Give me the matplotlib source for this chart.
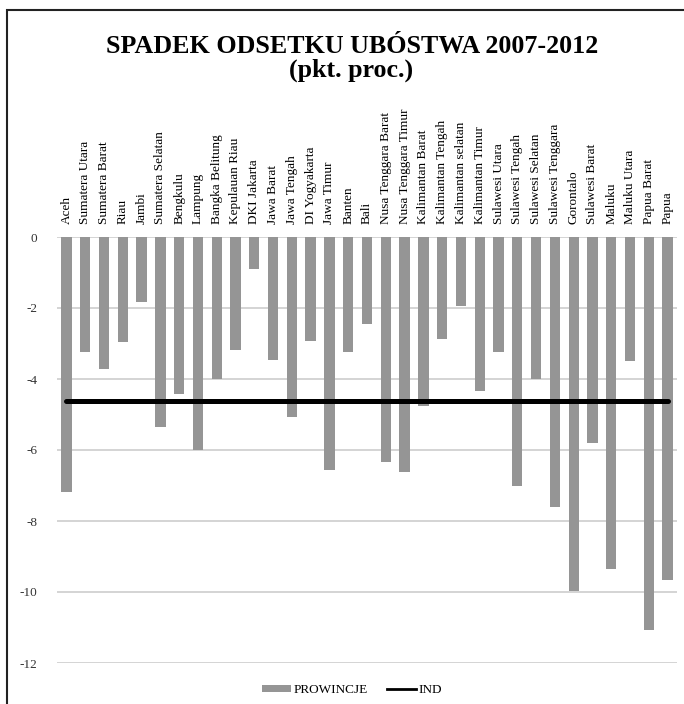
import matplotlib.pyplot as plt
from matplotlib.patches import Patch, Rectangle
from matplotlib.lines import Line2D

plt.rcParams['font.family'] = ['Liberation Serif', 'DejaVu Serif']

provinces = [
    "Aceh", "Sumatera Utara", "Sumatera Barat", "Riau", "Jambi",
    "Sumatera Selatan", "Bengkulu", "Lampung", "Bangka Belitung",
    "Kepulauan Riau", "DKI Jakarta", "Jawa Barat", "Jawa Tengah",
    "DI Yogyakarta", "Jawa Timur", "Banten", "Bali", "Nusa Tenggara Barat",
    "Nusa Tenggara Timur", "Kalimantan Barat", "Kalimantan Tengah",
    "Kalimantan selatan", "Kalimantan Timur", "Sulawesi Utara",
    "Sulawesi Tengah", "Sulawesi Selatan", "Sulawesi Tenggara", "Gorontalo",
    "Sulawesi Barat", "Maluku", "Maluku Utara", "Papua Barat", "Papua",
]
change = [
    -7.18, -3.23, -3.72, -2.96, -1.84, -5.35, -4.42, -6.00, -4.00, -3.19,
    -0.90, -3.46, -5.08, -2.93, -6.56, -3.23, -2.45, -6.35, -6.62, -4.75,
    -2.88, -1.94, -4.35, -3.24, -7.02, -3.99, -7.60, -9.98, -5.79, -9.34,
    -3.49, -11.08, -9.65,
]
ind = -4.61
yticks = [0, -2, -4, -6, -8, -10, -12]

fig = plt.figure(figsize=(6.84, 7.04), dpi=100)
ax = fig.add_axes([57 / 684, 1 - 663 / 704, 620 / 684, 426 / 704])

x = range(len(provinces))
ax.bar(x, change, width=0.55, color='#959595', zorder=2)
ax.plot([0, len(provinces) - 1], [ind, ind], color='black', lw=3.6,
        solid_capstyle='round', zorder=3)

ax.set_xlim(-0.5, len(provinces) - 0.5)
ax.set_ylim(-12, 0)
ax.set_yticks(yticks)
ax.set_yticklabels([str(v) for v in yticks])
ax.set_xticks(list(x))
ax.set_xticklabels(provinces, rotation=90, fontsize=9.5)
ax.xaxis.tick_top()
ax.tick_params(axis='x', length=0, pad=9)
ax.tick_params(axis='y', length=0, pad=14, labelsize=9.5, labelcolor='#333333')
ax.grid(axis='y', color='#d4d4d4', lw=1.4, zorder=0)
for s in ax.spines.values():
    s.set_visible(False)

fig.text(352 / 684, 1 - 53 / 704, "SPADEK ODSETKU UBÓSTWA 2007-2012",
         ha='center', va='baseline', fontsize=18.7, fontweight='bold')
fig.text(351 / 684, 1 - 77 / 704, "(pkt. proc.)",
         ha='center', va='baseline', fontsize=18.7, fontweight='bold')

handles = [Patch(facecolor='#959595', edgecolor='none'),
           Line2D([], [], color='black', lw=2)]
fig.legend(handles, ["PROWINCJE", "IND"], loc='center',
           bbox_to_anchor=(352 / 684, 1 - 690 / 704), ncol=2, frameon=False,
           fontsize=9.5, handlelength=2.2, handleheight=0.5,
           handletextpad=0.2, columnspacing=1.5)

# outer frame
fig.patches.append(Rectangle((7 / 684, -0.1), 1.2, 1 - 9.5 / 704 + 0.1,
                             transform=fig.transFigure, fill=False,
                             edgecolor='#222222', lw=1.5))

fig.savefig('out.png', dpi=100)
